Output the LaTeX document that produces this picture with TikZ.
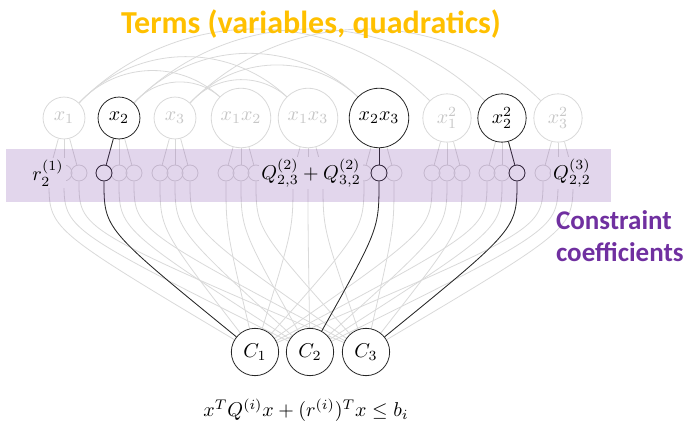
\documentclass[tikz,border=0pt]{standalone}
\usepackage{fontspec}
\newfontfamily\slidefont{Carlito}
\usepackage{tikz}
\usetikzlibrary{backgrounds}
\definecolor{termgold}{HTML}{FFC000}
\definecolor{coefpurple}{HTML}{7030A0}
\definecolor{bandlilac}{HTML}{E2D6EC}

\begin{document}
\begin{tikzpicture}[
    x=0.5pt, y=0.5pt,
    term/.style={circle, draw=black!15, text=black!22, fill=white},
    termon/.style={term, draw=black!85, text=black},
    coef/.style={circle, draw=black!15, minimum size=8pt, inner sep=0pt},
    coefon/.style={coef, draw=black!85},
    cons/.style={circle, draw=black!85, fill=white},
    wire/.style={black!15},
    wireon/.style={black!85},
    lbl/.style={fill=bandlilac, inner sep=1pt},
  ]
  \useasboundingbox (0,0) rectangle (687,-421);

  % ---------- terms ----------
  \node[font=\slidefont\bfseries\fontsize{16}{19}\selectfont, text=termgold] (title) at (311,-24)
    {Terms (variables, quadratics)};
  \foreach \n/\x/\lab/\st in {x1/64/x_1/term, x2/119/x_2/termon, x3/175/x_3/term,
      x1x2/241/x_1x_2/term, x1x3/308/x_1x_3/term, x2x3/379/x_2x_3/termon,
      x1s/447/x_1^2/term, x2s/502/x_2^2/termon, x3s/558/x_3^2/term} {
    \node[\st] (\n) at (\x,-118) {$\lab$};
    \foreach \k/\dx in {1/-15, 2/0, 3/15}
      \node[coef] (\n-\k) at (\x+\dx,-173) {};
  }

  % ---------- constraints ----------
  \foreach \k/\x in {1/255, 2/310, 3/366}
    \node[cons] (c\k) at (\x,-352) {$C_\k$};
  \node (ineq) at (306,-410) {$x^TQ^{(i)}x + (r^{(i)})^Tx \le b_i$};
  \node[font=\slidefont\bfseries\fontsize{13.5}{16}\selectfont, text=coefpurple, align=left, anchor=west]
    (coeflbl) at (549,-236) {Constraint\\coefficients};

  \begin{scope}[on background layer]
    \foreach \a/\b in {x1/x1x2, x2/x1x2, x1/x1x3, x3/x1x3, x2/x2x3, x3/x2x3, x1/x1s, x2/x2s, x3/x3s}
      \draw[wire] (\a) to[bend left=45] (\b);
    \foreach \n in {x1,x2,x3,x1x2,x1x3,x2x3,x1s,x2s,x3s}
      \foreach \k in {1,2,3} {
        \draw[wire] (\n) -- (\n-\k);
        \draw[wire] (\n-\k) .. controls +(0,-56) .. (c\k);
      }
  \end{scope}

  % highlighted path of x_2 into every constraint
  \foreach \n/\k in {x2/1, x2x3/2, x2s/3} {
    \node[coefon] at (\n-\k) {};
    \draw[wireon] (\n) -- (\n-\k);
    \draw[wireon] (\n-\k) .. controls +(0,-56) .. (c\k);
  }

  % coefficient band
  \fill[coefpurple, opacity=0.2] (6,-149) rectangle (611,-202);
  \node[lbl] (r21) at (48,-173) {$r_2^{(1)}$};
  \node[lbl] (q23) at (311,-173) {$Q_{2,3}^{(2)} + Q_{3,2}^{(2)}$};
  \node[lbl] (q22) at (572,-173) {$Q_{2,2}^{(3)}$};
\end{tikzpicture}
\end{document}
